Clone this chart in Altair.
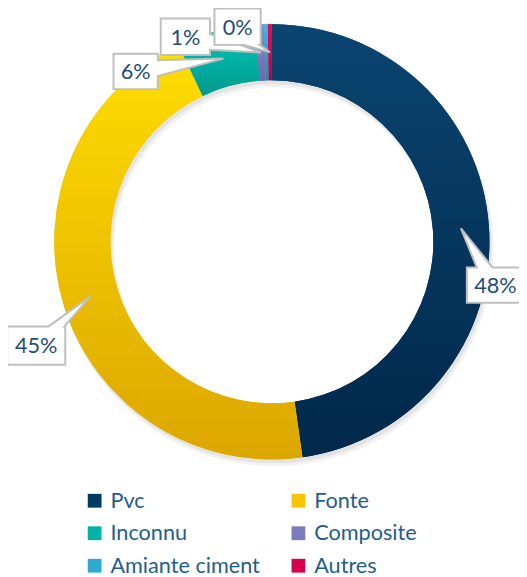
import math
import altair as alt
import pandas as pd

# ---------------- data ----------------
categories = ["Pvc", "Fonte", "Inconnu", "Composite", "Amiante ciment", "Autres"]
shares = [47.75, 45.2, 5.85, 0.6, 0.3, 0.3]
label_texts = ["48%", "45%", "6%", "1%", "", "0%"]

# ---------------- style ----------------
solid_colors = ["#003a63", "#f2c700", "#00b3a4", "#7b7bbd", "#2ea9d2", "#d6004e"]
grad_top = ["#0a4470", "#ffde00", "#00c9b9", "#8c8cd2", "#3bbde6", "#ea0a5c"]
grad_bottom = ["#00284a", "#dca600", "#009a8c", "#6a6aa8", "#2587ad", "#bd0040"]

CX, CY = 268, 233          # ring centre (px in plot area)
R_OUT, R_IN = 221, 164
R_TIP = (R_OUT + R_IN) / 2
# callout layout: offset of box centre from the pointer tip, box width, box height
callout_layout = {
    "Pvc": (35, 57.6, 58, 36),
    "Fonte": (-55, 50, 59, 39),
    "Inconnu": (-89, 13, 45, 36),
    "Composite": (-77, -16, 50, 37),
    "Autres": (-33, -26, 47, 37),
}
TEXT_COLOR = "#1f4e79"
LEGEND_COLOR = "#1f5e8c"
FONT = "Lato"

df = pd.DataFrame({"cat": categories, "value": shares, "idx": list(range(len(categories)))})


def callout_path(a, b, tx, ty, hw=8):
    """Box (half sizes a, b) centred at 0,0 with a wedge pointing to (tx, ty)."""
    t_side_x = a / abs(tx) if tx else float("inf")
    t_side_y = b / abs(ty) if ty else float("inf")
    if t_side_y < t_side_x:
        side = "top" if ty < 0 else "bottom"
        e = tx * t_side_y
        e = max(-a + hw + 1, min(a - hw - 1, e))
    else:
        side = "right" if tx > 0 else "left"
        e = ty * t_side_x
        e = max(-b + hw + 1, min(b - hw - 1, e))
    p = [f"M{-a},{-b}"]
    if side == "top":
        p += [f"L{e - hw},{-b}", f"L{tx},{ty}", f"L{e + hw},{-b}"]
    p.append(f"L{a},{-b}")
    if side == "right":
        p += [f"L{a},{e - hw}", f"L{tx},{ty}", f"L{a},{e + hw}"]
    p.append(f"L{a},{b}")
    if side == "bottom":
        p += [f"L{e + hw},{b}", f"L{tx},{ty}", f"L{e - hw},{b}"]
    p.append(f"L{-a},{b}")
    if side == "left":
        p += [f"L{-a},{e + hw}", f"L{tx},{ty}", f"L{-a},{e - hw}"]
    p.append("Z")
    return " ".join(p)


total = sum(shares)
rows = []
cum = 0.0
for cat, v, lab in zip(categories, shares, label_texts):
    mid = (cum + v / 2) / total * 2 * math.pi
    cum += v
    if not lab or cat not in callout_layout:
        continue
    dx, dy, w, h = callout_layout[cat]
    tipx = CX + R_TIP * math.sin(mid)
    tipy = CY - R_TIP * math.cos(mid)
    bx, by = tipx + dx, tipy + dy
    rows.append({
        "cat": cat, "label": lab, "bx": bx, "by": by,
        "path": callout_path(w / 2, h / 2, round(tipx - bx, 1), round(tipy - by, 1)),
    })
labels_df = pd.DataFrame(rows)


def grad(i):
    return {
        "gradient": "linear", "x1": 0, "y1": 0, "x2": 0, "y2": 1,
        "stops": [{"offset": 0, "color": grad_top[i]}, {"offset": 1, "color": grad_bottom[i]}],
    }


theta = alt.Theta("value:Q", stack=True)
order = alt.Order("idx:Q", sort="ascending")

shadow1 = alt.Chart(df).mark_arc(radius=R_OUT, radius2=R_IN, color="#000000", opacity=0.06).encode(
    theta=theta, order=order, x=alt.value(CX + 2), y=alt.value(CY + 4)
)
shadow2 = alt.Chart(df).mark_arc(radius=R_OUT + 1, radius2=R_IN - 1, color="#000000", opacity=0.05).encode(
    theta=theta, order=order, x=alt.value(CX + 3), y=alt.value(CY + 6)
)

base = alt.Chart(df).mark_arc(radius=R_OUT, radius2=R_IN, strokeWidth=0).encode(
    theta=theta,
    order=order,
    x=alt.value(CX),
    y=alt.value(CY),
    color=alt.Color(
        "cat:N",
        sort=categories,
        scale=alt.Scale(domain=categories, range=solid_colors),
        legend=alt.Legend(
            title=None, orient="none", legendX=77, legendY=485, columns=2, direction="horizontal",
            symbolType="square", symbolSize=196, symbolStrokeWidth=0, symbolOpacity=1,
            labelFont=FONT, labelFontSize=22, labelColor=LEGEND_COLOR, labelOffset=5,
            rowPadding=11, columnPadding=28, padding=0, labelLimit=300,
        ),
    ),
)

fill_cond = [{"test": f"datum.cat === '{c}'", "value": grad(i)} for i, c in enumerate(categories[:-1])]
gradient_layer = alt.Chart(df).mark_arc(radius=R_OUT, radius2=R_IN, strokeWidth=0).encode(
    theta=theta,
    order=order,
    x=alt.value(CX),
    y=alt.value(CY),
    fill=alt.FillValue(value=grad(len(categories) - 1), condition=fill_cond),
)

boxes = alt.Chart(labels_df).mark_point(
    filled=True, fill="white", stroke="#bfbfbf", strokeWidth=2, size=4, opacity=1, strokeJoin="miter"
).encode(
    x=alt.X("bx:Q", scale=None),
    y=alt.Y("by:Q", scale=None),
    shape=alt.Shape("path:N", scale=None),
)

texts = alt.Chart(labels_df).mark_text(
    font=FONT, fontSize=22, color=TEXT_COLOR, align="center", baseline="middle", dy=1
).encode(
    x=alt.X("bx:Q", scale=None),
    y=alt.Y("by:Q", scale=None),
    text="label:N",
)

chart = alt.layer(shadow2, shadow1, base, gradient_layer, boxes, texts).properties(
    width=519, height=569, autosize="none", padding=0
).configure_view(stroke=None)

chart.save("out.html", embed_options={"renderer": "svg", "actions": False})
